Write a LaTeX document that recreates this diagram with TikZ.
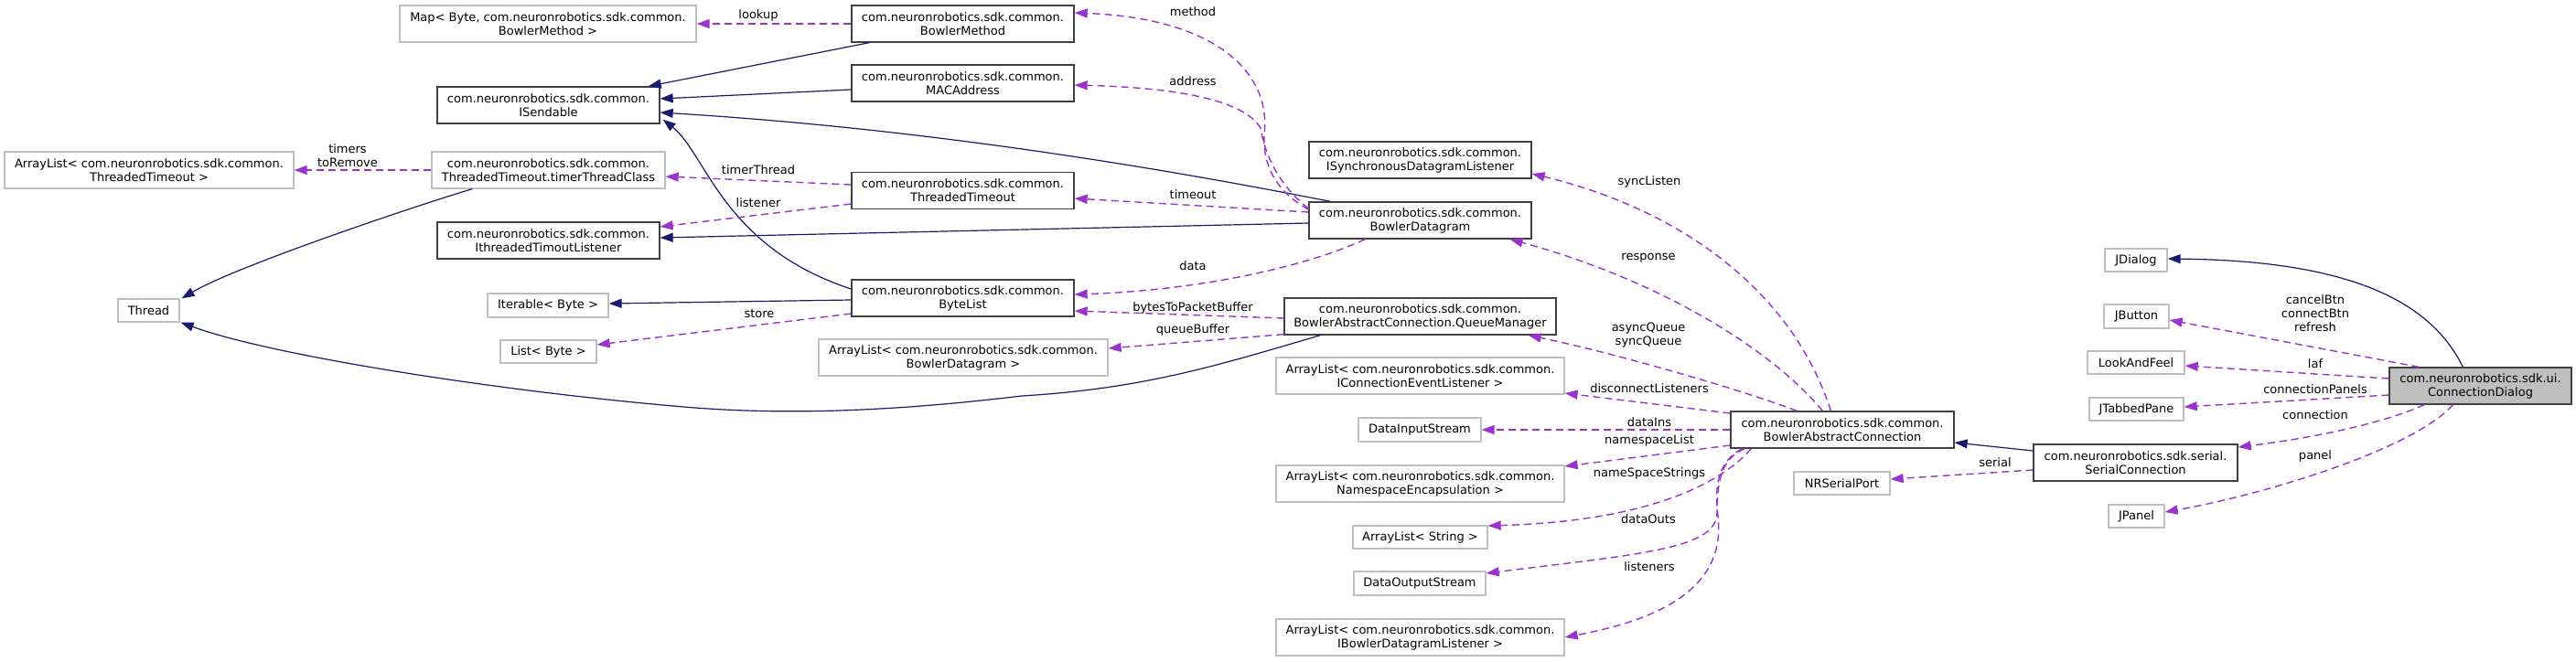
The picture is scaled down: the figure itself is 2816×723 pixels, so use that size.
\documentclass[tikz,border=0pt]{standalone}
\usepackage{fontspec}
\setmainfont{DejaVu Sans}
\usetikzlibrary{arrows.meta}
\definecolor{navyc}{HTML}{191970}
\definecolor{purpc}{HTML}{9A32CD}
\definecolor{dgray}{HTML}{404040}
\definecolor{lgray}{HTML}{BFBFBF}
\begin{document}
\begin{tikzpicture}[x=1pt,y=-1pt,
 base/.style={rectangle, inner sep=0pt, align=center, font=\fontsize{13}{15}\selectfont, minimum height=40pt, fill=white},
 dbox/.style={base, draw=dgray, line width=1.3pt},
 gbox/.style={base, draw=lgray, line width=1.3pt},
 cbox/.style={base, draw=dgray, fill=lgray, line width=1.3pt},
 inh/.style={draw=navyc, line width=1.2pt, -{Triangle[length=14pt,width=10pt]}},
 dep/.style={draw=purpc, line width=1.4pt, dash pattern=on 8pt off 5pt, -{Triangle[length=14pt,width=10pt]}},
 lbl/.style={inner sep=0pt, align=center, font=\fontsize{13}{15}\selectfont}]
\useasboundingbox (0,0) rectangle (2816,723);

% nodes
\node[gbox, minimum width=324pt] (map) at (599,26) {Map< Byte, com.neuronrobotics.sdk.common.\\BowlerMethod >};
\node[dbox, minimum width=243pt] (bmethod) at (1052.5,26) {com.neuronrobotics.sdk.common.\\BowlerMethod};
\node[dbox, minimum width=243pt] (mac) at (1052.5,91) {com.neuronrobotics.sdk.common.\\MACAddress};
\node[dbox, minimum width=243pt] (isend) at (599.5,115) {com.neuronrobotics.sdk.common.\\ISendable};
\node[gbox, minimum width=316pt] (altt) at (163,186) {ArrayList< com.neuronrobotics.sdk.common.\\ThreadedTimeout >};
\node[gbox, minimum width=255pt] (ttc) at (599.5,186) {com.neuronrobotics.sdk.common.\\ThreadedTimeout.timerThreadClass};
\node[dbox, minimum width=243pt] (ithl) at (599.5,263) {com.neuronrobotics.sdk.common.\\IthreadedTimoutListener};
\node[dbox, minimum width=243pt] (tto) at (1052.5,208.5) {com.neuronrobotics.sdk.common.\\ThreadedTimeout};
\node[gbox, minimum width=67pt, minimum height=25pt] (thread) at (162.5,339.5) {Thread};
\node[gbox, minimum width=132pt, minimum height=26pt] (iter) at (599,334) {Iterable< Byte >};
\node[dbox, minimum width=243pt] (bytelist) at (1052.5,326) {com.neuronrobotics.sdk.common.\\ByteList};
\node[gbox, minimum width=105pt, minimum height=25pt] (listb) at (599.5,384.5) {List< Byte >};
\node[dbox, minimum width=243pt] (isdl) at (1552.5,175) {com.neuronrobotics.sdk.common.\\ISynchronousDatagramListener};
\node[dbox, minimum width=243pt] (bdg) at (1552.5,241) {com.neuronrobotics.sdk.common.\\BowlerDatagram};
\node[dbox, minimum width=297pt] (qm) at (1552.5,346) {com.neuronrobotics.sdk.common.\\BowlerAbstractConnection.QueueManager};
\node[gbox, minimum width=316pt] (albd) at (1053,391) {ArrayList< com.neuronrobotics.sdk.common.\\BowlerDatagram >};
\node[gbox, minimum width=315pt] (alicel) at (1552.5,411) {ArrayList< com.neuronrobotics.sdk.common.\\IConnectionEventListener >};
\node[gbox, minimum width=134pt, minimum height=26pt] (dis) at (1552,470) {DataInputStream};
\node[gbox, minimum width=315pt] (alns) at (1552.5,529) {ArrayList< com.neuronrobotics.sdk.common.\\NamespaceEncapsulation >};
\node[gbox, minimum width=147pt, minimum height=25pt] (als) at (1552.5,587.5) {ArrayList< String >};
\node[gbox, minimum width=144pt, minimum height=26pt] (dos) at (1552,638) {DataOutputStream};
\node[gbox, minimum width=315pt] (albl) at (1552.5,697) {ArrayList< com.neuronrobotics.sdk.common.\\IBowlerDatagramListener >};
\node[dbox, minimum width=244pt] (bac) at (2014,470) {com.neuronrobotics.sdk.common.\\BowlerAbstractConnection};
\node[gbox, minimum width=105pt, minimum height=25pt] (nrsp) at (2013.5,528.5) {NRSerialPort};
\node[dbox, minimum width=223pt] (serial) at (2334.5,506) {com.neuronrobotics.sdk.serial.\\SerialConnection};
\node[gbox, minimum width=68pt, minimum height=25pt] (jdialog) at (2335,284.5) {JDialog};
\node[gbox, minimum width=71pt, minimum height=26pt] (jbutton) at (2335.5,346) {JButton};
\node[gbox, minimum width=106pt, minimum height=25pt] (laf) at (2335,396.5) {LookAndFeel};
\node[gbox, minimum width=103pt, minimum height=25pt] (jtp) at (2335.5,447.5) {JTabbedPane};
\node[gbox, minimum width=61pt, minimum height=25pt] (jpanel) at (2335.5,564.5) {JPanel};
\node[cbox, minimum width=199pt] (cd) at (2711.5,422) {com.neuronrobotics.sdk.ui.\\ConnectionDialog};

% inheritance edges
\draw[inh] ([xshift=20pt]bmethod.south west) -- ([xshift=-13pt]isend.north east);
\draw[inh] ([yshift=-7pt]mac.west) -- ([yshift=7pt]isend.east);
\draw[inh] ([xshift=24pt]bdg.north west) .. controls (1250,180) and (1000,140) .. ([yshift=-8pt]isend.east);
\draw[inh] ([yshift=10pt]bytelist.west) .. controls (790,270) and (772,168) .. ([xshift=3pt,yshift=5pt]isend.south east);
\draw[inh] ([xshift=45pt]ttc.south west) .. controls (470,220) and (260,290) .. ([xshift=2pt]thread.north east);
\draw[inh] ([yshift=-3pt]bdg.west) -- ([yshift=3pt]ithl.east);
\draw[inh] ([xshift=40pt]qm.south west) .. controls (1330,400) and (1250,425) .. (1117,433)
   .. controls (1000,447) and (880,455) .. (760,446)
   .. controls (560,430) and (300,390) .. ([xshift=1pt]thread.south east);
\draw[inh] ([yshift=-2pt]bytelist.west) -- ([yshift=2pt]iter.east);
\draw[inh] ([yshift=13pt]serial.west) -- ([yshift=-14pt]bac.east);
\draw[inh] ([xshift=81pt]cd.north west) .. controls (2655,325) and (2560,285) .. ([yshift=1.5pt]jdialog.east);

% usage edges
\draw[dep] (bmethod.west) -- (map.east);
\draw[dep] (ttc.west) -- (altt.east);
\draw[dep] ([yshift=6.5pt]tto.west) -- ([yshift=-7pt]ttc.east);
\draw[dep] ([yshift=-14.5pt]tto.west) -- ([yshift=15pt]ithl.east);
\draw[dep] ([yshift=12pt]bdg.west) .. controls (1395,210) and (1380,180) .. (1382,147)
   .. controls (1390,80) and (1330,20) .. ([yshift=12pt]bmethod.east);
\draw[dep] ([yshift=13pt]bdg.west) .. controls (1395,200) and (1382,165) .. (1378,140)
   .. controls (1360,110) and (1290,96) .. ([yshift=-2pt]mac.east);
\draw[dep] ([yshift=9pt]bdg.west) -- ([yshift=-8.5pt]tto.east);
\draw[dep] ([xshift=62pt]bdg.south west) .. controls (1420,295) and (1300,318) .. ([yshift=4pt]bytelist.east);
\draw[dep] ([yshift=-2pt]qm.west) -- ([yshift=-14pt]bytelist.east);
\draw[dep] ([yshift=1pt]qm.south west) -- ([yshift=10pt]albd.east);
\draw[dep] ([yshift=-17pt]bytelist.west) -- ([yshift=7.5pt]listb.east);
\draw[dep] ([xshift=110pt]bac.north west) .. controls (1960,320) and (1840,230) .. ([yshift=-15pt]isdl.east);
\draw[dep] ([xshift=101pt]bac.north west) .. controls (1935,380) and (1810,305) .. ([xshift=-24pt]bdg.south east);
\draw[dep] ([xshift=73pt]bac.north west) .. controls (1900,425) and (1760,385) .. ([xshift=-31pt]qm.south east);
\draw[dep] ([yshift=18pt]bac.west) -- ([yshift=-19pt]alicel.east);
\draw[dep] (bac.west) -- (dis.east);
\draw[dep] ([yshift=-17pt]bac.west) -- ([yshift=19pt]alns.east);
\draw[dep] ([xshift=23pt]bac.south west) .. controls (1880,530) and (1800,570) .. ([yshift=12.5pt]als.east);
\draw[dep] ([xshift=16pt]bac.south west) .. controls (1885,500) and (1877,520) .. (1877,560)
   .. controls (1877,600) and (1800,605) .. ([yshift=11pt]dos.east);
\draw[dep] ([xshift=13pt]bac.south west) .. controls (1878,505) and (1874,530) .. (1878,565)
   .. controls (1888,650) and (1800,680) .. (albl.east);
\draw[dep] ([yshift=-8pt]serial.west) -- ([yshift=4.5pt]nrsp.east);
\draw[dep] ([xshift=33pt]cd.north west) -- ([yshift=-4pt]jbutton.east);
\draw[dep] ([yshift=8pt]cd.west) -- ([yshift=-3.5pt]laf.east);
\draw[dep] ([yshift=-10pt]cd.west) -- ([yshift=2.5pt]jtp.east);
\draw[dep] ([xshift=39pt]cd.south west) .. controls (2600,465) and (2520,480) .. ([yshift=17pt]serial.east);
\draw[dep] ([xshift=70pt]cd.south west) .. controls (2640,490) and (2480,540) .. ([yshift=4.5pt]jpanel.east);

% labels
\node[lbl] (l1) at (829,17) {lookup};
\node[lbl] (l2) at (380,170) {timers\\toRemove};
\node[lbl] (l3) at (829,186) {timerThread};
\node[lbl] (l4) at (829,222) {listener};
\node[lbl] (l5) at (830,343) {store};
\node[lbl] (l6) at (1304,13) {method};
\node[lbl] (l7) at (1304,89) {address};
\node[lbl] (l8) at (1304,213) {timeout};
\node[lbl] (l9) at (1304,291) {data};
\node[lbl] (l10) at (1304,337) {bytesToPacketBuffer};
\node[lbl] (l11) at (1304,361) {queueBuffer};
\node[lbl] (l12) at (1803,199) {syncListen};
\node[lbl] (l13) at (1802,282) {response};
\node[lbl] (l14) at (1802,367) {asyncQueue\\syncQueue};
\node[lbl] (l15) at (1803,425) {disconnectListeners};
\node[lbl] (l16) at (1803,462) {dataIns};
\node[lbl] (l17) at (1803,482) {namespaceList};
\node[lbl] (l18) at (1803,518) {nameSpaceStrings};
\node[lbl] (l19) at (1802,568) {dataOuts};
\node[lbl] (l20) at (1803,620) {listeners};
\node[lbl] (l21) at (2181,506) {serial};
\node[lbl] (l22) at (2531,343) {cancelBtn\\connectBtn\\refresh};
\node[lbl] (l23) at (2531,398) {laf};
\node[lbl] (l24) at (2531,426) {connectionPanels};
\node[lbl] (l25) at (2531,454) {connection};
\node[lbl] (l26) at (2531,499) {panel};
\end{tikzpicture}
\end{document}
